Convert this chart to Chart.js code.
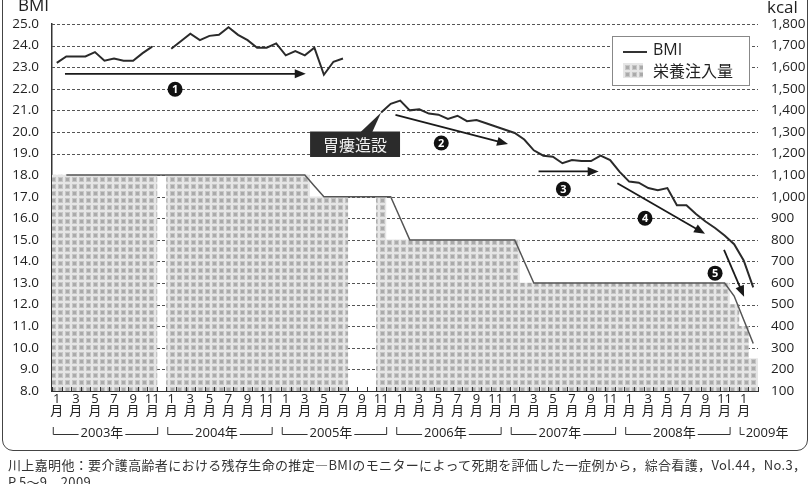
<!DOCTYPE html>
<html>
<head>
<meta charset="utf-8">
<script src="https://cdn.jsdelivr.net/npm/chart.js@4"></script>
<style>
  html, body { margin: 0; padding: 0; background: #fff; }
  #wrap { position: relative; width: 810px; height: 484px; overflow: hidden; }
  #chartBox { position: absolute; left: 0; top: 0; width: 810px; height: 452px; }
  #frame { position: absolute; left: 2px; top: -20px; width: 806px; height: 471px; border: 1.5px solid #444;
           border-radius: 11px; box-sizing: border-box; pointer-events: none; }
  #cite { position: absolute; left: 8px; top: 456px; font: 13px "Noto Sans CJK JP", sans-serif; color: #333;
          line-height: 17px; white-space: nowrap; letter-spacing: 0.35px; }
</style>
</head>
<body>
<div id="wrap">
  <div id="chartBox"><canvas id="bmiChart"></canvas></div>
  <div id="frame"></div>
  <div id="cite">川上嘉明他：要介護高齢者における残存生命の推定―BMIのモニターによって死期を評価した一症例から，綜合看護，Vol.44，No.3，<br>P.5～9，2009.</div>
</div>
<script>
const years = [2003, 2004, 2005, 2006, 2007, 2008, 2009]

// Jan 2003 .. Feb 2009, one category per month
const months = []
years.forEach((y) => {
  for (let m = 1; m <= 12; m++) {
    if (y < 2009 || m <= 2) months.push(y + '-' + m)
  }
})

// BMI, monthly (null = not measured)
const bmi = [
  23.2, 23.5, 23.5, 23.5, 23.7, 23.3, 23.4, 23.3, 23.3, 23.65, 23.95, null,
  23.85, 24.2, 24.55, 24.25, 24.45, 24.5, 24.85, 24.5, 24.25, 23.9, 23.9, 24.1,
  23.55, 23.75, 23.55, 23.9, 22.65, 23.25, 23.4, null, null, null, 20.9, 21.3,
  21.45, 21.0, 21.05, 20.85, 20.8, 20.6, 20.75, 20.5, 20.55, 20.4, 20.25, 20.1,
  19.95, 19.65, 19.15, 18.9, 18.85, 18.55, 18.7, 18.65, 18.65, 18.9, 18.7, 18.15,
  17.7, 17.65, 17.4, 17.3, 17.4, 16.6, 16.6, 16.2, 15.85, 15.55, 15.2, 14.8,
  14.05, 12.8
]

// nutrition given (kcal), monthly bars
const kcal = [
  1100, 1100, 1100, 1100, 1100, 1100, 1100, 1100, 1100, 1100, 1100, null,
  1100, 1100, 1100, 1100, 1100, 1100, 1100, 1100, 1100, 1100, 1100, 1100,
  1100, 1100, 1100, 1000, 1000, 1000, 1000, null, null, null, 1000, 800,
  800, 800, 800, 800, 800, 800, 800, 800, 800, 800, 800, 800,
  800, 600, 600, 600, 600, 600, 600, 600, 600, 600, 600, 600,
  600, 600, 600, 600, 600, 600, 600, 600, 600, 600, 600, 500,
  400, 250
]

// outline drawn over the bar tops
const kcalOutline = [
  null, 1100, 1100, 1100, 1100, 1100, 1100, 1100, 1100, 1100, 1100, 1100,
  1100, 1100, 1100, 1100, 1100, 1100, 1100, 1100, 1100, 1100, 1100, 1100,
  1100, 1100, 1100, 1050, 1000, 1000, 1000, 1000, 1000, 1000, 1000, 1000,
  900, 800, 800, 800, 800, 800, 800, 800, 800, 800, 800, 800,
  800, 700, 600, 600, 600, 600, 600, 600, 600, 600, 600, 600,
  600, 600, 600, 600, 600, 600, 600, 600, 600, 600, 600, 540,
  430, 320
]

// annotations in data space: [month index, BMI]
const arrows = [
  [0.86, 22.69, 26.1, 22.69],
  [35.5, 20.79, 47.3, 19.44],
  [50.5, 18.17, 56.8, 18.17],
  [58.76, 17.62, 67.95, 15.28],
  [69.94, 14.54, 72.04, 12.37]
]
const marks = [
  [12.4, 21.98, '1'],
  [40.3, 19.49, '2'],
  [53.1, 17.36, '3'],
  [61.66, 16.0, '4'],
  [69.0, 13.46, '5']
]
const gastro = { text: '胃瘻造設', x1: 26.55, x2: 35.98, y1: 20.02, y2: 18.84 }

const FONT = '"Open Sans", "Noto Sans CJK JP", sans-serif'

function makePattern () {
  const c = document.createElement('canvas')
  c.width = 7
  c.height = 7
  const g = c.getContext('2d')
  g.fillStyle = '#c6c6c6'
  g.fillRect(0, 0, 7, 7)
  g.fillStyle = '#e6e6e6'
  g.fillRect(0, 0, 2, 7)
  g.fillRect(0, 0, 7, 2)
  g.fillStyle = '#aaaaaa'
  g.fillRect(3, 3, 3, 3)
  return g.createPattern(c, 'repeat')
}
const checker = makePattern()

function drawArrow (ctx, x1, y1, x2, y2) {
  const a = Math.atan2(y2 - y1, x2 - x1)
  const L = 11
  const W = 4.5
  const c = Math.cos(a)
  const s = Math.sin(a)
  ctx.beginPath()
  ctx.moveTo(x1, y1)
  ctx.lineTo(x2 - L * c * 0.7, y2 - L * s * 0.7)
  ctx.stroke()
  ctx.beginPath()
  ctx.moveTo(x2, y2)
  ctx.lineTo(x2 - L * c + W * s, y2 - L * s - W * c)
  ctx.lineTo(x2 - L * c - W * s, y2 - L * s + W * c)
  ctx.closePath()
  ctx.fill()
}

const decor = {
  id: 'decor',
  beforeDatasetsDraw (chart) {
    // dotted horizontal grid, one per BMI tick
    const { ctx, chartArea, scales } = chart
    ctx.save()
    ctx.strokeStyle = '#555'
    ctx.lineWidth = 1
    ctx.setLineDash([3, 2])
    for (const t of scales.y.ticks) {
      if (t.value === scales.y.min) continue
      const py = Math.round(scales.y.getPixelForValue(t.value)) + 0.5
      ctx.beginPath()
      ctx.moveTo(chartArea.left, py)
      ctx.lineTo(chartArea.right, py)
      ctx.stroke()
    }
    ctx.restore()
  },
  afterDatasetsDraw (chart) {
    const { ctx, chartArea, scales } = chart
    const x = scales.x
    const y = scales.y
    const n = months.length
    const w = (chartArea.right - chartArea.left) / n

    ctx.save()
    // month tick marks pointing into the plot
    ctx.strokeStyle = '#333'
    ctx.lineWidth = 1
    ctx.beginPath()
    for (let i = 0; i <= n; i++) {
      const px = Math.round(chartArea.left + i * w) + 0.5
      ctx.moveTo(px, chartArea.bottom)
      ctx.lineTo(px, chartArea.bottom - 4)
    }
    ctx.stroke()

    // arrows
    ctx.strokeStyle = '#1a1a1a'
    ctx.fillStyle = '#1a1a1a'
    ctx.lineWidth = 1.8
    for (const [i1, b1, i2, b2] of arrows) {
      drawArrow(ctx, x.getPixelForValue(i1), y.getPixelForValue(b1), x.getPixelForValue(i2), y.getPixelForValue(b2))
    }

    // numbered circles
    for (const [i, b, label] of marks) {
      const px = x.getPixelForValue(i)
      const py = y.getPixelForValue(b)
      ctx.fillStyle = '#111'
      ctx.beginPath()
      ctx.arc(px, py, 7.5, 0, Math.PI * 2)
      ctx.fill()
      ctx.fillStyle = '#fff'
      ctx.font = 'bold 11px ' + FONT
      ctx.textAlign = 'center'
      ctx.textBaseline = 'middle'
      ctx.fillText(label, px, py + 0.5)
    }

    // gastrostomy label with pointer to first point after the gap
    const bx1 = x.getPixelForValue(gastro.x1)
    const bx2 = x.getPixelForValue(gastro.x2)
    const by1 = y.getPixelForValue(gastro.y1)
    const by2 = y.getPixelForValue(gastro.y2)
    const tipX = x.getPixelForValue(34)
    const tipY = y.getPixelForValue(bmi[34])
    ctx.fillStyle = '#2b2b2b'
    ctx.beginPath()
    ctx.moveTo(bx1 + 50, by1 + 1)
    ctx.lineTo(tipX, tipY)
    ctx.lineTo(bx1 + 62, by1 + 1)
    ctx.closePath()
    ctx.fill()
    ctx.fillRect(bx1, by1, bx2 - bx1, by2 - by1)
    ctx.fillStyle = '#f2f2f2'
    ctx.font = '16px "Noto Sans CJK JP", sans-serif'
    ctx.textAlign = 'center'
    ctx.textBaseline = 'middle'
    ctx.fillText(gastro.text, (bx1 + bx2) / 2, (by1 + by2) / 2 + 1)

    // legend box
    const lx = chartArea.right - 146
    const ly = chartArea.top + 12
    ctx.fillStyle = '#fff'
    ctx.fillRect(lx, ly, 137, 49)
    ctx.strokeStyle = '#888'
    ctx.lineWidth = 1
    ctx.strokeRect(lx + 0.5, ly + 0.5, 137, 49)
    ctx.strokeStyle = '#333'
    ctx.lineWidth = 2
    ctx.beginPath()
    ctx.moveTo(lx + 11, ly + 16)
    ctx.lineTo(lx + 35, ly + 16)
    ctx.stroke()
    ctx.fillStyle = checker
    ctx.fillRect(lx + 11, ly + 27, 20, 15)
    ctx.fillStyle = '#222'
    ctx.font = '16px ' + FONT
    ctx.textAlign = 'left'
    ctx.textBaseline = 'middle'
    ctx.fillText('BMI', lx + 41, ly + 14)
    ctx.fillText('栄養注入量', lx + 41, ly + 36)

    // axis titles
    ctx.font = '17px ' + FONT
    ctx.textBaseline = 'alphabetic'
    ctx.fillText('BMI', 18, 11)
    ctx.fillText('kcal', 767, 13)

    // year brackets under the month labels
    const yy = chartArea.bottom + 43
    ctx.strokeStyle = '#333'
    ctx.lineWidth = 1
    ctx.font = '13px ' + FONT
    ctx.fillStyle = '#222'
    years.forEach((yr, k) => {
      const s = k * 12
      const left = x.getPixelForValue(s) - 4
      const label = yr + '年'
      const tw = ctx.measureText(label).width
      if (s + 10 < n) {
        const right = x.getPixelForValue(s + 10) + 5
        const cx = (left + right) / 2 - 3
        ctx.beginPath()
        ctx.moveTo(left + 0.5, yy - 7)
        ctx.lineTo(left + 0.5, yy + 0.5)
        ctx.lineTo(cx - tw / 2 - 2, yy + 0.5)
        ctx.moveTo(cx + tw / 2 + 2, yy + 0.5)
        ctx.lineTo(right + 0.5, yy + 0.5)
        ctx.lineTo(right + 0.5, yy - 7)
        ctx.stroke()
        ctx.textAlign = 'center'
        ctx.textBaseline = 'middle'
        ctx.fillText(label, cx, yy - 1)
      } else {
        ctx.beginPath()
        ctx.moveTo(left + 0.5, yy - 7)
        ctx.lineTo(left + 0.5, yy + 0.5)
        ctx.lineTo(left + 5, yy + 0.5)
        ctx.stroke()
        ctx.textAlign = 'left'
        ctx.textBaseline = 'middle'
        ctx.fillText(label, left + 6, yy - 1)
      }
    })
    ctx.restore()
  }
}

const ctx = document.getElementById('bmiChart').getContext('2d')

new Chart(ctx, {
  type: 'bar',
  data: {
    labels: months,
    datasets: [
      {
        type: 'line',
        label: 'BMI',
        data: bmi,
        yAxisID: 'y',
        borderColor: '#2a2a2a',
        borderWidth: 2,
        pointRadius: 0,
        tension: 0,
        spanGaps: false,
        order: 0
      },
      {
        type: 'line',
        label: 'outline',
        data: kcalOutline,
        yAxisID: 'y2',
        borderColor: '#555',
        borderWidth: 1.5,
        pointRadius: 0,
        tension: 0,
        order: 1
      },
      {
        label: '栄養注入量',
        data: kcal,
        yAxisID: 'y2',
        backgroundColor: checker,
        borderWidth: 0,
        barPercentage: 1,
        categoryPercentage: 1,
        order: 2
      }
    ]
  },
  options: {
    responsive: true,
    maintainAspectRatio: false,
    animation: false,
    layout: { padding: { left: 0, right: 0, top: 24, bottom: 6 } },
    plugins: {
      legend: { display: false },
      tooltip: { enabled: false }
    },
    scales: {
      x: {
        grid: { display: false, drawTicks: false },
        border: { display: true, color: '#333', width: 1 },
        ticks: {
          autoSkip: false,
          maxRotation: 0,
          padding: 2,
          color: '#222',
          font: { family: FONT, size: 13, lineHeight: 0.95 },
          callback: (val, idx) => idx % 2 === 0 ? [String(idx % 12 + 1), '月'] : ''
        },
        afterFit: (scale) => { scale.height = 55 }
      },
      y: {
        position: 'left',
        min: 8,
        max: 25,
        grid: { display: false },
        border: { display: true, color: '#333', width: 1.5 },
        ticks: {
          stepSize: 1,
          padding: 5,
          color: '#222',
          font: { family: FONT, size: 13.5 },
          callback: (v) => v.toFixed(1)
        },
        afterFit: (scale) => { scale.width = 52 }
      },
      y2: {
        position: 'right',
        min: 100,
        max: 1800,
        grid: { display: false },
        border: { display: false },
        ticks: {
          stepSize: 100,
          padding: 5,
          color: '#222',
          font: { family: FONT, size: 13.5 },
          callback: (v) => v.toLocaleString('en-US')
        },
        afterFit: (scale) => { scale.width = 52 }
      }
    }
  },
  plugins: [decor]
})
</script>
</body>
</html>
